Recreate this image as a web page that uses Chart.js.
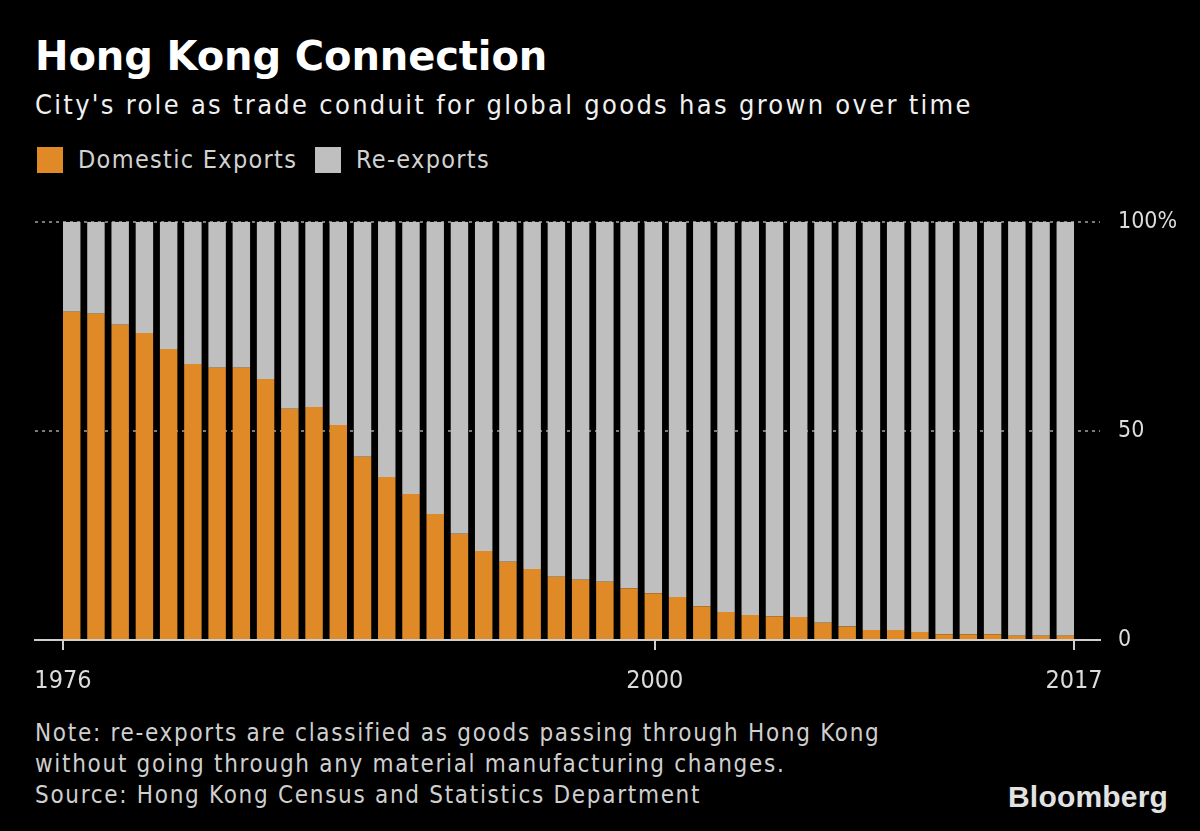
<!DOCTYPE html>
<html>
<head>
<meta charset="utf-8">
<title>Hong Kong Connection</title>
<script src="https://cdn.jsdelivr.net/npm/chart.js@4/dist/chart.umd.min.js"></script>
<style>
    html, body {
        margin: 0;
        padding: 0;
        background: #000;
        width: 1200px;
        height: 831px;
        overflow: hidden;
        font-family: "DejaVu Sans Condensed", "DejaVu Sans", sans-serif;
    }
    .abs { position: absolute; white-space: nowrap; }
    #title { left: 35px; top: 36px; font-family: "DejaVu Sans", sans-serif; font-size: 40px; line-height: 40px; font-weight: bold; color: #fff; letter-spacing: -0.1px; }
    #subtitle { left: 35px; top: 91px; font-size: 27px; line-height: 27px; color: #f0f0f0; letter-spacing: 2.3px; }
    .legend-item { top: 147px; font-size: 25px; line-height: 26px; color: #d2d2d2; letter-spacing: 1.3px; }
    .swatch { position: absolute; top: 0; left: 0; width: 26px; height: 26px; }
    .legend-item span.label { margin-left: 41px; }
    #chartWrap { position: absolute; left: 0; top: 190px; width: 1200px; height: 522px; }
    #note { left: 35px; top: 718px; font-size: 24px; line-height: 31px; color: #cfcfcf; letter-spacing: 1.7px; }
    #logo { left: 1008px; top: 782px; font-family: "Liberation Sans", Arial, sans-serif; font-weight: bold; font-size: 30px; line-height: 30px; color: #e2e2e2; letter-spacing: 0.2px; }
</style>
</head>
<body>
<div id="title" class="abs">Hong Kong Connection</div>
<div id="subtitle" class="abs">City's role as trade conduit for global goods has grown over time</div>
<div class="abs legend-item" style="left:37px"><div class="swatch" style="background:#DF8A26"></div><span class="label">Domestic Exports</span></div>
<div class="abs legend-item" style="left:315px"><div class="swatch" style="background:#BFBFBF"></div><span class="label">Re-exports</span></div>
<div id="chartWrap"><canvas id="barChart" width="1200" height="522"></canvas></div>
<div id="note" class="abs">Note: re-exports are classified as goods passing through Hong Kong<br>without going through any material manufacturing changes.<br>Source: Hong Kong Census and Statistics Department</div>
<div id="logo" class="abs">Bloomberg</div>

<script>
// Share of Hong Kong exports, percent
const years = [
    1976, 1977, 1978, 1979, 1980, 1981, 1982, 1983, 1984, 1985,
    1986, 1987, 1988, 1989, 1990, 1991, 1992, 1993, 1994, 1995,
    1996, 1997, 1998, 1999, 2000, 2001, 2002, 2003, 2004, 2005,
    2006, 2007, 2008, 2009, 2010, 2011, 2012, 2013, 2014, 2015,
    2016, 2017
];
const domesticExports = [
    78.5, 78.0, 75.4, 73.4, 69.6, 66.0, 65.1, 65.1, 62.4, 55.3,
    55.7, 51.4, 43.8, 39.0, 34.9, 30.1, 25.4, 21.3, 18.7, 17.0,
    15.1, 14.4, 13.9, 12.4, 11.2, 10.3, 8.1, 6.7, 6.0, 5.7,
    5.5, 4.1, 3.2, 2.4, 2.4, 1.9, 1.4, 1.4, 1.4, 1.0,
    1.0, 1.0
];
const reExports = [
    21.5, 22.0, 24.6, 26.6, 30.4, 34.0, 34.9, 34.9, 37.6, 44.7,
    44.3, 48.6, 56.2, 61.0, 65.1, 69.9, 74.6, 78.7, 81.3, 83.0,
    84.9, 85.6, 86.1, 87.6, 88.8, 89.7, 91.9, 93.3, 94.0, 94.3,
    94.5, 95.9, 96.8, 97.6, 97.6, 98.1, 98.6, 98.6, 98.6, 99.0,
    99.0, 99.0
];
const yearTicks = [1976, 2000, 2017];
const shareTicks = [0, 50, 100];

const ORANGE = '#DF8A26';
const GREY = '#BFBFBF';
const FONT = '"DejaVu Sans Condensed", "DejaVu Sans", sans-serif';

function toPoints(values) {
    return years.map((yr, i) => ({ x: yr, y: values[i] }));
}

new Chart(document.getElementById('barChart'), {
    type: 'bar',
    data: {
        datasets: [
            {
                label: 'Domestic Exports',
                data: toPoints(domesticExports),
                backgroundColor: ORANGE,
                borderWidth: 0,
                barPercentage: 0.72,
                categoryPercentage: 1
            },
            {
                label: 'Re-exports',
                data: toPoints(reExports),
                backgroundColor: GREY,
                borderWidth: 0,
                barPercentage: 0.72,
                categoryPercentage: 1
            }
        ]
    },
    options: {
        responsive: false,
        animation: false,
        devicePixelRatio: 1,
        layout: {
            padding: { left: 35, top: 30, right: 0, bottom: 0 }
        },
        plugins: {
            legend: { display: false },
            tooltip: { enabled: false }
        },
        scales: {
            // bars sit on this one
            x: {
                type: 'linear',
                display: false,
                stacked: true,
                offset: false,
                grid: { offset: false },
                min: 1974.485,
                max: 2018.432
            },
            // visible time axis: ticks run from first bar edge to last bar edge
            years: {
                type: 'linear',
                position: 'bottom',
                offset: false,
                min: 1974.865,
                max: 2018.054,
                afterBuildTicks: axis => {
                    axis.ticks = yearTicks.map(v => ({ value: v }));
                },
                grid: {
                    offset: false,
                    drawOnChartArea: false,
                    drawTicks: true,
                    tickLength: 10,
                    color: '#cfcfcf',
                    lineWidth: 2
                },
                border: {
                    display: true,
                    color: '#cfcfcf',
                    width: 2
                },
                ticks: {
                    color: '#dcdcdc',
                    padding: 16,
                    maxRotation: 0,
                    font: { family: FONT, size: 25 },
                    callback: value => String(value)
                }
            },
            y: {
                position: 'right',
                stacked: true,
                min: 0,
                max: 100,
                afterBuildTicks: axis => {
                    axis.ticks = shareTicks.map(v => ({ value: v }));
                },
                afterFit: axis => {
                    axis.width = 100;
                },
                grid: {
                    drawTicks: false,
                    lineWidth: 2,
                    color: ctx => ctx.tick && ctx.tick.value === 0 ? 'rgba(0,0,0,0)' : '#7a7a7a'
                },
                border: {
                    display: false,
                    dash: [3, 4]
                },
                ticks: {
                    color: '#dcdcdc',
                    padding: 18,
                    font: { family: FONT, size: 23 },
                    callback: value => value === 100 ? '100%' : String(value)
                }
            }
        }
    }
});
</script>
</body>
</html>
